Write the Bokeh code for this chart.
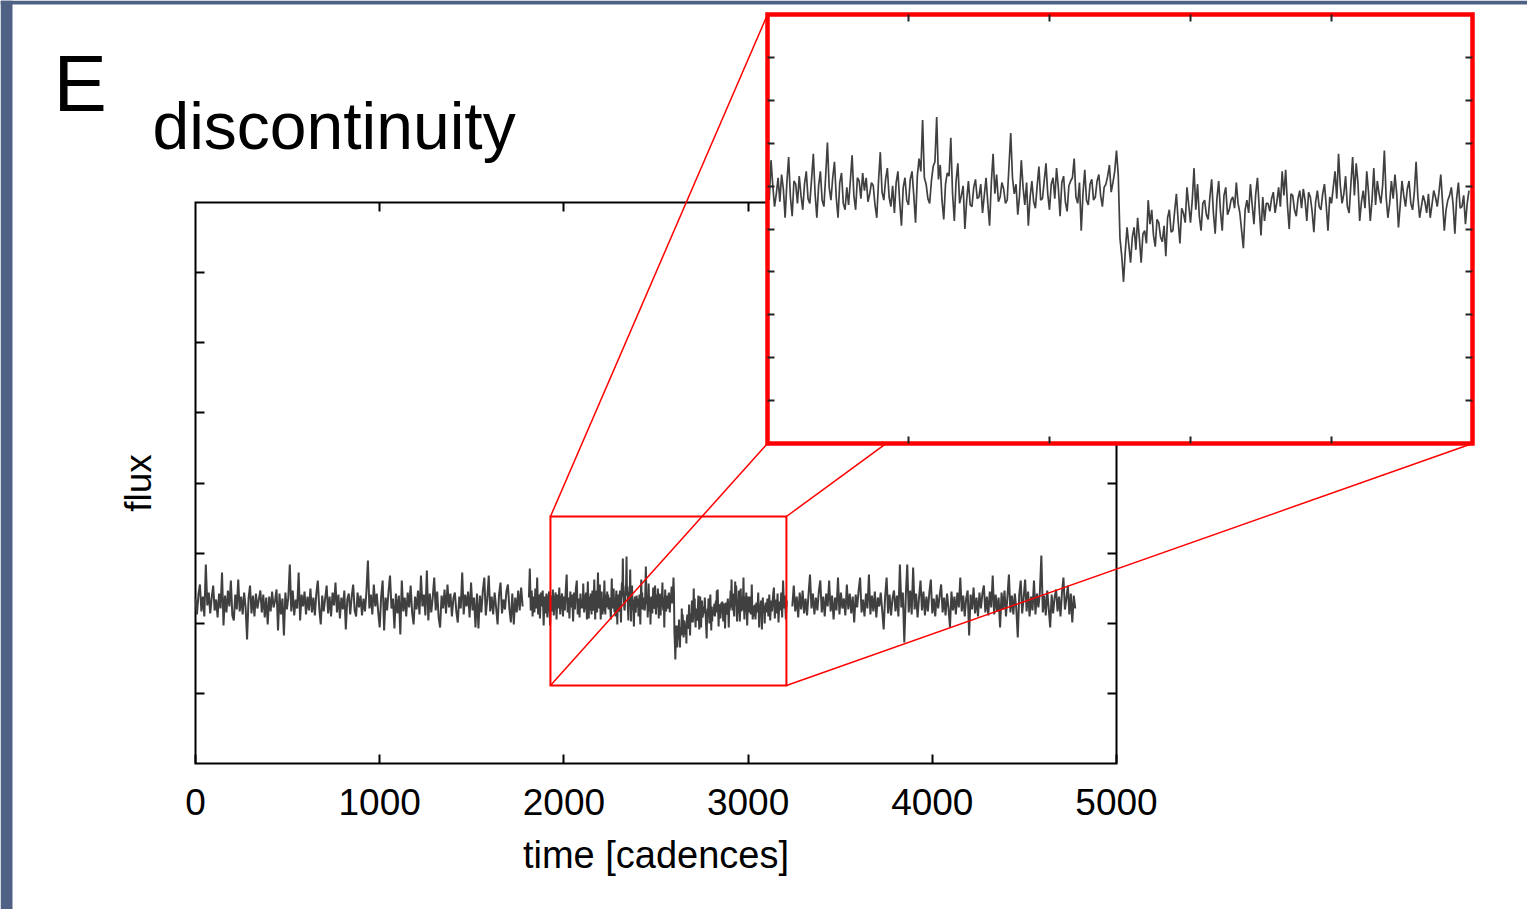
import numpy as np
from bokeh.plotting import figure
from bokeh.models import Range1d, LinearAxis, FixedTicker, Label, CustomJSTickFormatter
from bokeh.embed import file_html
from bokeh.resources import INLINE

# ---------------- data (flux offsets) ----------------
# segment A: cadences 0 .. 1776, one value every 8 cadences
seg_a_start, seg_a_step = 0, 8
flux_a = [
    4, -12, 8, 18, -9, 6, -14, 38, -3, 10,
    -11, 5, 17, -8, 3, -15, 9, -6, 30, -23,
    7, -10, 12, -4, 22, -13, -18, 8, -7, 23,
    -9, 6, -12, 10, -5, -37, 4, 17, -11, 7,
    -14, 9, -6, 3, 12, -10, 8, -15, 5, -22,
    6, -9, 11, -5, 2, 13, -28, 9, -12, 4,
    -33, 10, -7, 5, 38, -9, 12, -13, 3, -6,
    30, -18, 8, -4, 11, -12, 6, -8, 14, -10,
    5, -13, 9, 22, -6, -22, 7, -9, 4, 17,
    -11, 6, -14, 10, -3, 20, -10, 8, -16, 5,
    -7, 12, -27, 3, 9, -12, 6, 18, -8, -14,
    10, -5, 7, -13, 4, -9, 11, 42, -6, 8,
    -12, 18, -4, 9, -10, -25, 6, 22, -28, 5,
    -8, 11, 27, -6, 4, -26, 9, -11, 7, -32,
    22, -9, 5, -14, 10, -5, 17, -10, -22, 6,
    -7, 12, -12, 27, -4, 8, -13, 32, -18, 9,
    -10, 5, 25, -8, 11, -15, -25, 7, -6, 13,
    -11, 18, -5, 9, -14, 4, 10, -9, -20, 6,
    -6, 30, -12, 8, -4, 11, -15, 20, -8, 5,
    -25, 9, -26, 7, -10, 12, 25, -13, 4, 27,
    -9, 6, -12, 10, -5, -22, 8, 20, -11, 3,
    -7, 11, 18, -6, -20, 9, -22, 5, -10, 12,
    -8, 15, -4,
]

# segment B: cadences 1810 .. 3210 in pieces, each with its own start and step
seg_b_starts = [1810, 2100, 2445, 2775, 3105]
seg_b_steps = [5, 2.5, 2.5, 2.5, 5]
flux_b1 = [
    5, 34, -8, 12, -14, 6, -10, 14, -6, 25,
    -12, 8, -16, 10, -4, 12, -23, 6, -11, 9,
    -15, 4, 11, -23, 7, -9, 13, -13, 3, 10,
    -17, 8, -6, 15, -12, 2, 9, -14, 6, -8,
    12, 28, -10, 5, -16, 11, -5, 8, -19, 10,
    -7, 14, 22, -12, 4, -15, 9, -6,
]
flux_b2 = [
    2, -6, 19, 3, -10, -2, 8, -7, 10, 1,
    -17, 5, 21, -4, -16, 6, 4, -8, 9, -3,
    -12, 4, 12, -5, -8, 7, 23, -2, -17, 3,
    12, -6, -10, 9, 30, 2, -6, 8, 18, -4,
    -17, 5, 11, -8, -12, 2, -9, 6, 22, -3,
    -12, 8, 6, -5, 11, 0, 8, -7, -2, 5,
    3, -9, -17, 6, 24, -1, -6, 7, 14, -4,
    -10, 3, -14, 5, 12, -7, -22, 2, 8, -6,
    -9, 7, 12, -3, -20, 9, 20, 12, 44, 8,
    4, -5, -8, 6, 15, 18, 46, 7, 16, -6,
    -18, 4, 11, 9, 33, -2, -19, 6, 17, -8,
    -3, 3, -24, -6, 6, -9, -10, 2, 7, -5,
    -4, 4, -14, -3, 8, -8, -22, 5, 23, -2,
    10, -7, -4, 5, 1, -8, -6,
]
flux_b3 = [
    36, 8, -2, 4, -15, -3, 19, 2, -9, 5,
    -22, -4, 6, -7, -11, 3, 15, -6, -5, 6,
    17, -2, -12, 4, 8, -5, 14, 2, -16, 5,
    9, -7, -13, 3, 6, 8, 20, -4, -8, 5,
    -25, -2, 13, -6, -9, 4, 7, -6, -4, 6,
    10, -3, -10, 2, 4, 9, 16, -1, 5, 12,
    25, 10, -30, -41, -57, -38, -23, -34, -45, -29,
    -23, -37, -17, -30, -45, -27, -25, -33, -6, -21,
    -12, -28, -35, -18, -20, -29, -32, -22, -41, -17,
    -12, -26, -25, -13, -2, -19, -33, -11, -14, -20,
    2, -9, -20, -6, 14, -12, 4, -16, -25, -8,
    -6, -15, -18, -4, 7, -14, -27, -5, 6, -13,
    -25, -3, 2, -15, -12, -6, -4, -11, 5, -8,
    -14,
]
flux_b4 = [
    -36, -12, -6, -14, 4, -9, -21, -2, 8, -11,
    -28, -4, -19, -8, -8, -13, -5, -1, -14, -7,
    2, -10, 12, -3, 13, -9, -24, -2, -3, -12,
    -16, -5, 0, -11, 1, -6, -19, -1, -4, -13,
    -26, -7, 0, -10, -12, -2, 4, -9, -25, -4,
    -8, 2, 12, -5, 23, 3, -8, -2, 9, -10,
    -14, 4, 21, -3, 17, 5, -19, -7, 0, -11,
    12, -1, -19, -6, 14, -9, 6, -2, -8, 3,
    25, -4, -17, -8, 6, -5, 10, -2, -23, -9,
    6, -3, -10, 1, 6, -8, -12, -1, 18, -4,
    -17, -10, -3, -7, -14, -2, -17, -9, 0, -4,
    -10, -1, 10, -7, -25, -12, -6, -3, 2, -9,
    -27, -5, 5, -11, -10, -3, -21, -8, 0, -4,
    -10,
]
flux_b5 = [
    4, -14, 8, -18, 2, -9, 6, 15, -16, 3,
    -11, 9, -20, 1, -8, 10, -15, 22, -6, 7,
    -17, 2,
]

# segment C: cadences 3240 .. 4776, one value every 8 cadences
seg_c_start, seg_c_step = 3240, 8
flux_c = [
    -4, 17, -9, 6, -15, 10, -7, 12, -11, 4,
    -13, 8, 28, -6, 9, -12, 5, -8, 11, 22,
    -10, 6, -14, 9, -4, 22, -9, 7, -17, 5,
    -8, 25, -12, 10, -6, 4, -13, 18, -7, 9,
    -11, 6, -20, 8, -5, 12, 25, -10, 3, -14,
    9, -6, 28, -12, 7, -9, 11, -15, 5, -4,
    10, -8, -27, 6, 25, -11, 8, -13, 4, 12,
    -9, 7, -14, 38, -5, 10, -40, 6, 38, -10,
    12, -12, 35, -7, 9, -15, 5, 22, -8, 11,
    -13, 6, -9, 10, 23, -11, 4, -14, 8, -6,
    7, 18, -10, 5, -13, 9, -6, -25, 11, -8,
    6, -12, 10, -5, 25, -9, 7, -14, 4, 12,
    -33, 8, -7, 15, -11, 5, -14, 10, -6, 9,
    17, -10, 6, -13, 11, -5, 27, -12, 8, -9,
    5, -25, 10, -7, 12, -14, 6, 28, -10, 7,
    -12, 9, -6, -35, 8, 22, -11, 5, 23, -9,
    11, -14, 6, -8, 22, -12, 9, -5, 10, 47,
    -10, 7, -13, 12, -6, -25, 8, -11, 5, 13,
    -9, 6, -14, 10, 25, -7, 4, 17, -12, 9,
    -20, 7, -6,
]

x_ticks_labelled = [0, 1000, 2000, 3000, 4000, 5000]
inset_x_ticks = [2300, 2500, 2700, 2900]

# ---------------- geometry / ranges ----------------
W, H = 1527, 909
MAIN_PX = (195, 1116, 202, 763)    # left, right, top, bottom on page
main_x = (0, 5000)
main_y = (-161, 400)
INSET_PX = (767, 1472, 14, 443)
inset_x = (2100, 3100)
inset_y = (-158, 110)
zoom_box_x = (1927, 3208)
zoom_box_y = (-83, 86)


def ranges_for(px, xr, yr):
    l, r, t, b = px
    sx = (r - l) / (xr[1] - xr[0])
    sy = (b - t) / (yr[1] - yr[0])
    xs = xr[0] - l / sx
    xe = xr[1] + (W - r) / sx
    ys = yr[0] - (H - b) / sy
    ye = yr[1] + t / sy
    return (xs, xe, sx), (ys, ye, sy)


(mxs, mxe, msx), (mys, mye, msy) = ranges_for(MAIN_PX, main_x, main_y)
(ixs, ixe, isx), (iys, iye, isy) = ranges_for(INSET_PX, inset_x, inset_y)


def px_x(px):
    return mxs + px / msx


def px_y(py):
    return mys + (H - py) / msy


# ---------------- series assembly ----------------
xa = seg_a_start + seg_a_step * np.arange(len(flux_a))
ya = np.array(flux_a, dtype=float)
b_lists = [flux_b1, flux_b2, flux_b3, flux_b4, flux_b5]
xb = np.concatenate([s + st * np.arange(len(f)) for s, st, f in zip(seg_b_starts, seg_b_steps, b_lists)])
yb = np.concatenate([np.array(f, dtype=float) for f in b_lists])
xc = seg_c_start + seg_c_step * np.arange(len(flux_c))
yc = np.array(flux_c, dtype=float)

mask = (xb >= inset_x[0]) & (xb <= inset_x[1] - 5)
xi, yi = xb[mask], yb[mask]

# ---------------- figure ----------------
p = figure(width=W, height=H, x_range=Range1d(mxs, mxe), y_range=Range1d(mys, mye),
           x_axis_location=None, y_axis_location=None, toolbar_location=None,
           output_backend="svg", min_border=0, outline_line_color=None,
           background_fill_color="white", border_fill_color="white")
p.grid.visible = False
p.extra_x_ranges = {"ix": Range1d(ixs, ixe)}
p.extra_y_ranges = {"iy": Range1d(iys, iye)}

SLATE = "#4f6286"
p.quad(left=px_x(0), right=px_x(12), bottom=px_y(H), top=px_y(0), fill_color=SLATE, line_color=None)
p.quad(left=px_x(0), right=px_x(W), bottom=px_y(4), top=px_y(0), fill_color=SLATE, line_color=None)

DATA = "#404040"
# main box
p.quad(left=main_x[0], right=main_x[1], bottom=main_y[0], top=main_y[1],
       fill_color=None, line_color="black", line_width=2, line_join="miter")
for xx, yy in ((xa, ya), (xb, yb), (xc, yc)):
    p.line(xx, yy, line_color=DATA, line_width=2.0)

RED = "#ff0000"
p.quad(left=zoom_box_x[0], right=zoom_box_x[1], bottom=zoom_box_y[0], top=zoom_box_y[1],
       fill_color=None, line_color=RED, line_width=2, line_join="miter")
il, ir, it, ib = INSET_PX
p.segment(x0=[zoom_box_x[0], zoom_box_x[0], zoom_box_x[1], zoom_box_x[1]],
          y0=[zoom_box_y[1], zoom_box_y[0], zoom_box_y[1], zoom_box_y[0]],
          x1=[px_x(il), px_x(il), px_x(ir), px_x(ir)],
          y1=[px_y(it), px_y(ib), px_y(it), px_y(ib)],
          line_color=RED, line_width=1.5)

# inset
p.quad(left=inset_x[0], right=inset_x[1], bottom=inset_y[0], top=inset_y[1],
       fill_color="white", line_color=None, x_range_name="ix", y_range_name="iy", level="overlay")
p.line(xi, yi, line_color=DATA, line_width=1.7, x_range_name="ix", y_range_name="iy", level="overlay")

empty = CustomJSTickFormatter(code="return ''")


def tick_axis(side, loc, bounds, ticks, xr=None, yr=None, tick_len=9, color="black", level="guide"):
    kw = {}
    if xr:
        kw["x_range_name"] = xr
    if yr:
        kw["y_range_name"] = yr
    ax = LinearAxis(fixed_location=loc, bounds=bounds, ticker=FixedTicker(ticks=ticks),
                    formatter=empty, axis_line_color=None, major_tick_in=tick_len,
                    major_tick_out=0, minor_tick_line_color=None,
                    major_tick_line_color=color, major_tick_line_width=2,
                    major_label_standoff=0, level=level, **kw)
    p.add_layout(ax, side)
    return ax


# inset ticks
iyt = [inset_y[0] + k * (inset_y[1] - inset_y[0]) / 10 for k in range(1, 10)]
tick_axis("below", inset_y[0], inset_x, inset_x_ticks, "ix", "iy", 7, "#222222", "overlay")
tick_axis("above", inset_y[1], inset_x, inset_x_ticks, "ix", "iy", 7, "#222222", "overlay")
tick_axis("left", inset_x[0], inset_y, iyt, "ix", "iy", 7, "#222222", "overlay")
tick_axis("right", inset_x[1], inset_y, iyt, "ix", "iy", 7, "#222222", "overlay")
p.quad(left=inset_x[0], right=inset_x[1], bottom=inset_y[0], top=inset_y[1],
       fill_color=None, line_color=RED, line_width=4.5, line_join="miter",
       x_range_name="ix", y_range_name="iy", level="overlay")

# main axes
myt = [main_y[0] + k * (main_y[1] - main_y[0]) / 8 for k in range(1, 8)]
FONT = "Liberation Sans"
axb = LinearAxis(fixed_location=main_y[0], bounds=main_x, ticker=FixedTicker(ticks=x_ticks_labelled),
                 axis_line_color=None, major_tick_in=9, major_tick_out=0, minor_tick_line_color=None,
                 major_tick_line_color="black", major_tick_line_width=2,
                 major_label_text_font=FONT, major_label_text_font_size="37px",
                 major_label_text_color="black", major_label_standoff=25,
                 axis_label="time [cadences]", axis_label_text_font=FONT,
                 axis_label_text_font_size="38px", axis_label_text_font_style="normal",
                 axis_label_text_color="black", axis_label_standoff=16)
p.add_layout(axb, "below")
tick_axis("above", main_y[1], main_x, [1000, 2000, 3000, 4000])
axl = tick_axis("left", main_x[0], main_y, myt)
axl.axis_label = "flux"
axl.axis_label_text_font = FONT
axl.axis_label_text_font_size = "37px"
axl.axis_label_text_font_style = "normal"
axl.axis_label_text_color = "black"
axl.axis_label_standoff = 37
tick_axis("right", main_x[1], main_y, myt)

p.add_layout(Label(x=px_x(53), y=px_y(83), text="E", text_font=FONT, text_font_size="80px",
                   text_baseline="alphabetic", text_color="black"))
p.add_layout(Label(x=px_x(152), y=px_y(125), text="discontinuity", text_font=FONT,
                   text_font_size="66px", text_baseline="alphabetic", text_color="black"))

open("out.html", "w").write(file_html(p, INLINE))
